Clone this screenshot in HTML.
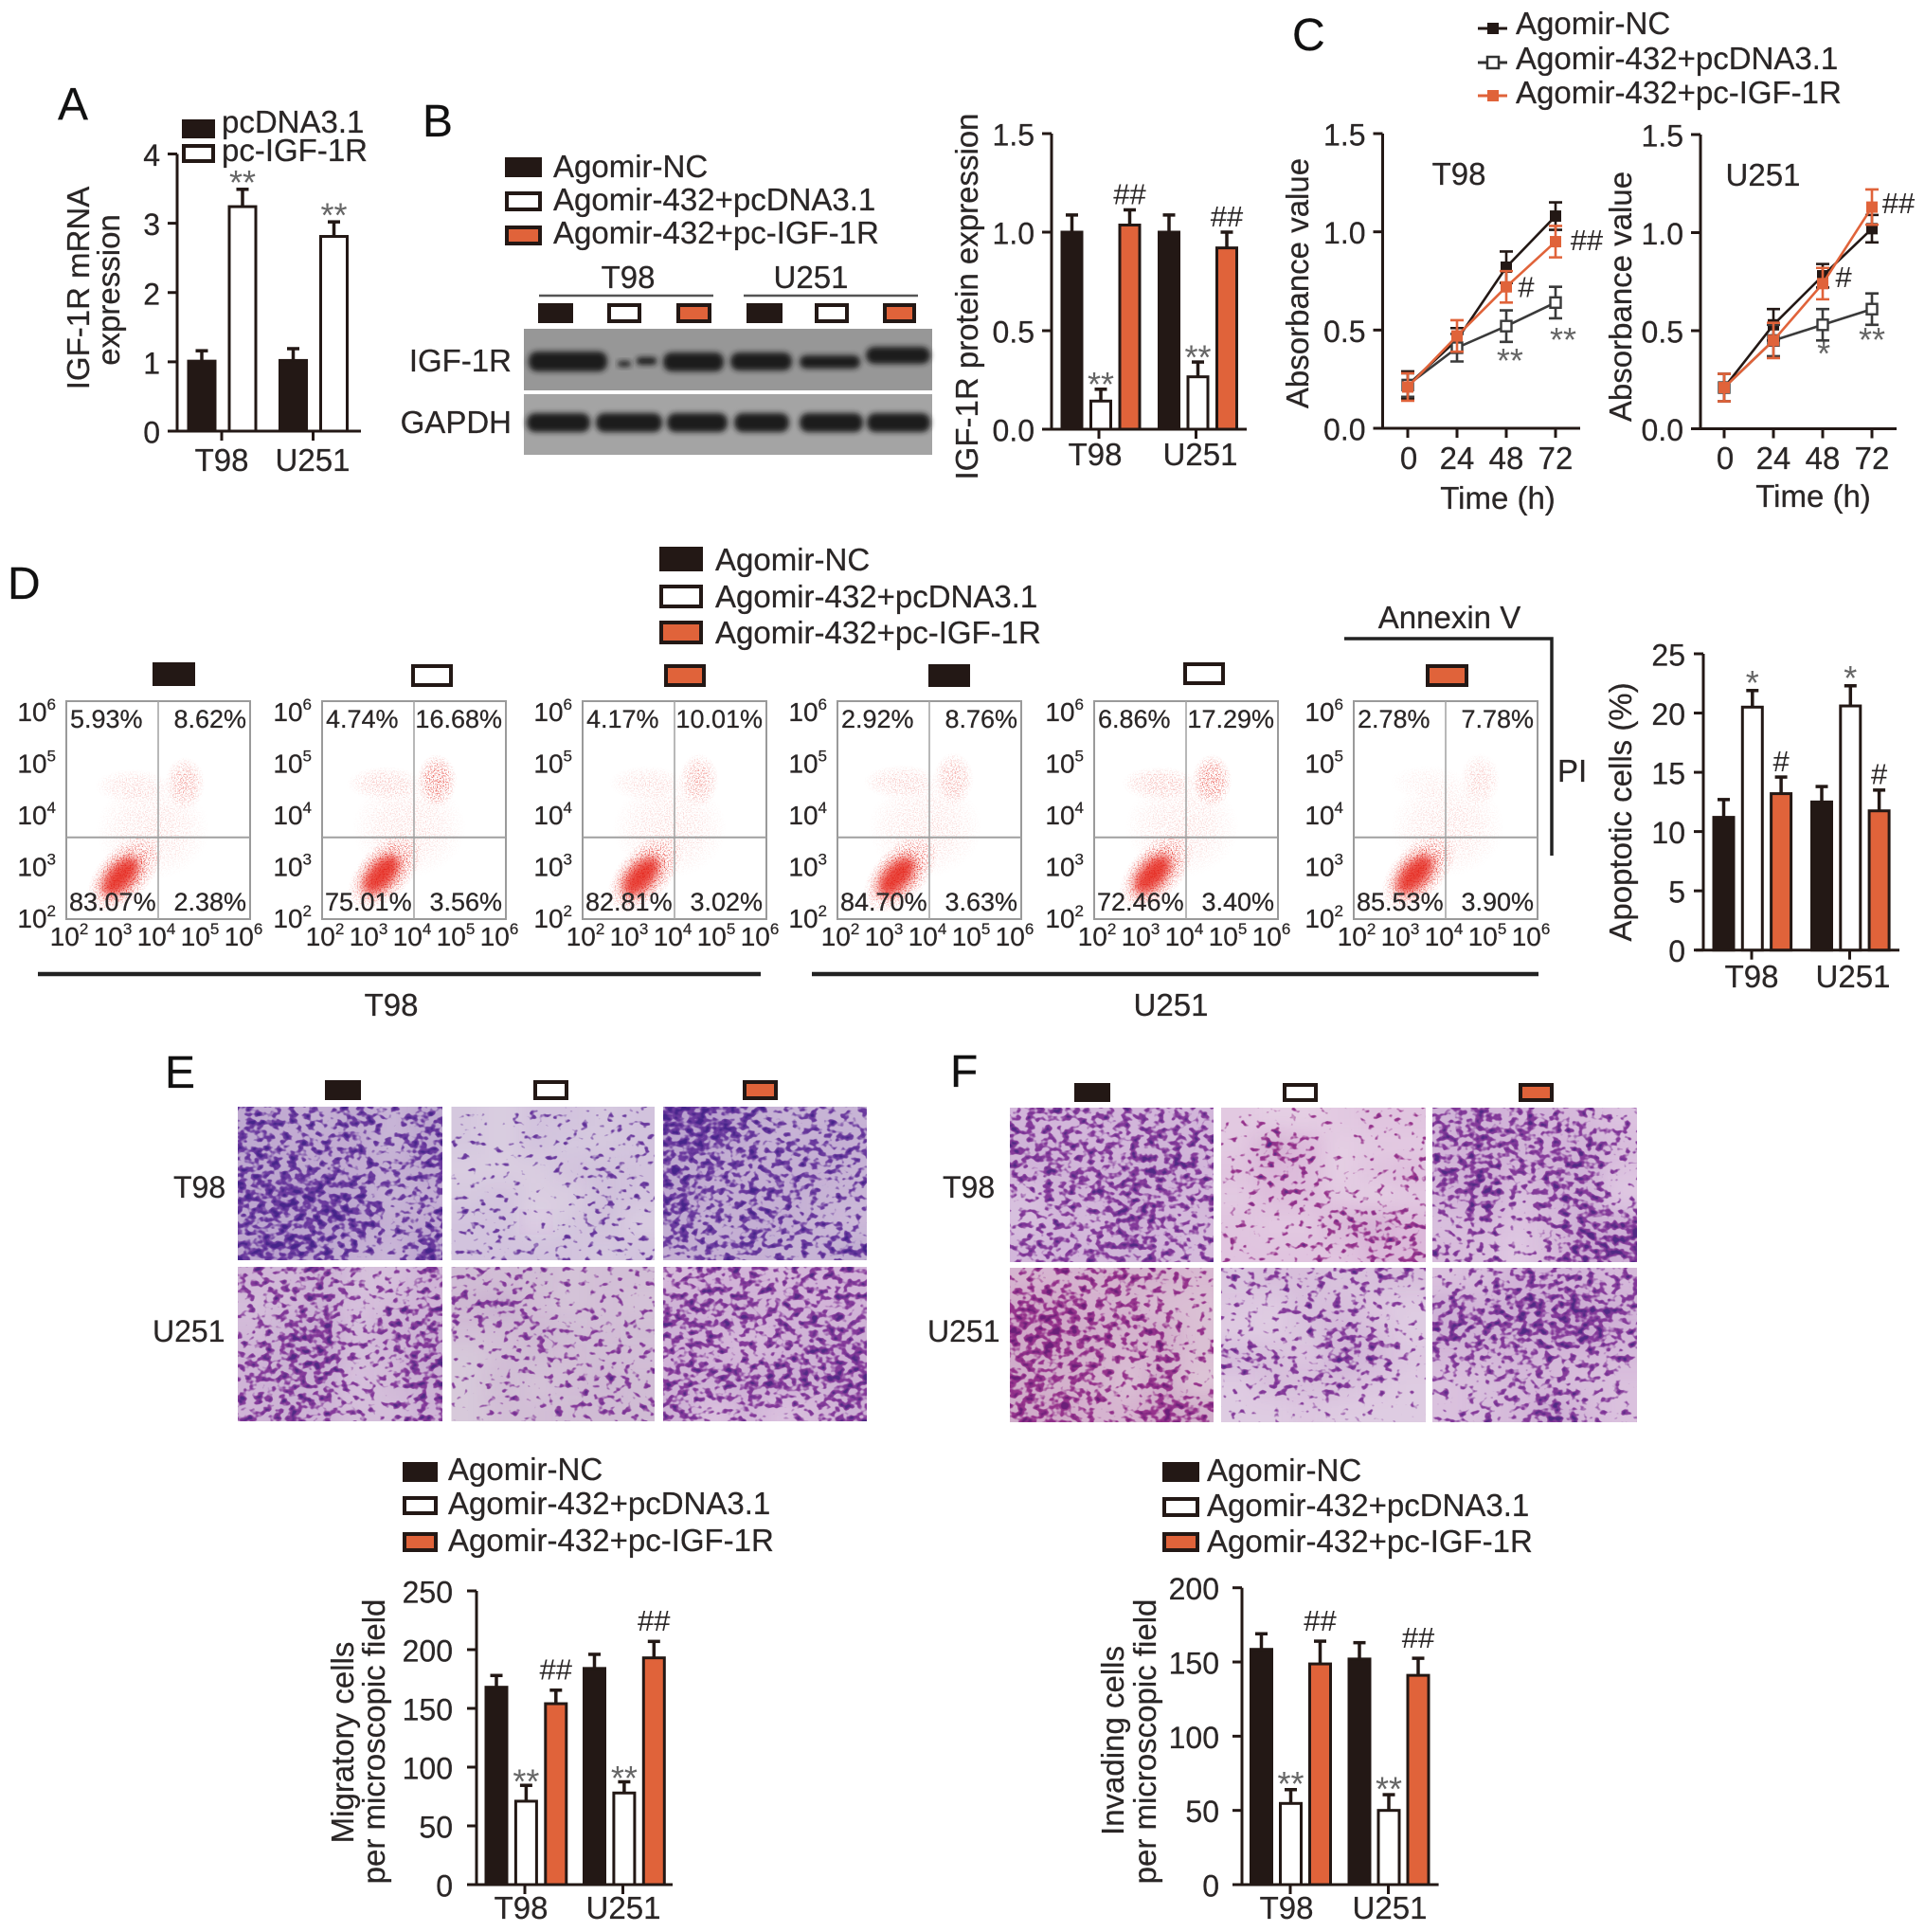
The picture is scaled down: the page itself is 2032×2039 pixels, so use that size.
<!DOCTYPE html>
<html lang="en">
<head>
<meta charset="utf-8">
<title>IGF-1R multi-panel figure</title>
<style>
html,body{margin:0;padding:0;background:#fff;width:2032px;height:2039px;overflow:hidden}
svg{display:block}
text{font-family:"Liberation Sans",sans-serif;fill:#2a2626;font-size:33px;stroke:#2a2626;stroke-width:.25px}
.letter{font-size:48px;fill:#111}
.k{fill:#231815;stroke:#231815;stroke-width:4}
.w{fill:#fff;stroke:#231815;stroke-width:4}
.o{fill:#e0633a;stroke:#231815;stroke-width:4}
.mid{text-anchor:middle}
.end{text-anchor:end}
.row{font-size:32px}
.band{fill:#1c1c1c;filter:url(#bandBlur)}
</style>
</head>
<body>
<svg id="fig" xmlns="http://www.w3.org/2000/svg" width="2032" height="2039" viewBox="0 0 2032 2039">
<defs>
<filter id="bandBlur" x="-20%" y="-60%" width="140%" height="220%"><feGaussianBlur stdDeviation="3"/></filter>
<filter id="softBlur" x="-50%" y="-50%" width="200%" height="200%"><feGaussianBlur stdDeviation="5"/></filter>
<radialGradient id="flowGrad"><stop offset="0" stop-color="#e42a20" stop-opacity="1"/><stop offset=".55" stop-color="#e42a20" stop-opacity=".7"/><stop offset="1" stop-color="#e42a20" stop-opacity="0"/></radialGradient>
<filter id="speck" x="-10%" y="-10%" width="120%" height="120%" color-interpolation-filters="sRGB">
<feTurbulence type="fractalNoise" baseFrequency="0.75" numOctaves="2" seed="7" result="n"/>
<feColorMatrix in="n" type="matrix" values="0 0 0 0 0 0 0 0 0 0 0 0 0 0 0 0 0 0 9 -4.7" result="m"/>
<feComposite in="SourceGraphic" in2="m" operator="in"/>
</filter>
</defs>
<rect x="0" y="0" width="2032" height="2039" fill="#fff"/>

<!-- Panel letters -->
<text class="letter" x="61" y="126">A</text>
<text class="letter" x="446" y="144">B</text>
<text class="letter" x="1364" y="53">C</text>
<text class="letter" x="8" y="632">D</text>
<text class="letter" x="174" y="1148">E</text>
<text class="letter" x="1003" y="1147">F</text>

<!-- Panel A static -->
<rect class="k" x="194" y="128" width="31" height="16"/>
<text x="234" y="140">pcDNA3.1</text>
<rect class="w" x="194" y="154" width="31" height="16"/>
<text x="234" y="170">pc-IGF-1R</text>
<text class="mid" transform="translate(94,304) rotate(-90)">IGF-1R mRNA</text>
<text class="mid" transform="translate(126,306) rotate(-90)">expression</text>

<!-- Panel B static -->
<rect class="k" x="535" y="168" width="35" height="17"/>
<text x="584" y="187">Agomir-NC</text>
<rect class="w" x="535" y="204" width="35" height="17"/>
<text x="584" y="222">Agomir-432+pcDNA3.1</text>
<rect class="o" x="535" y="240" width="35" height="17"/>
<text x="584" y="257">Agomir-432+pc-IGF-1R</text>
<text class="mid" x="663" y="304">T98</text>
<text class="mid" x="856" y="304">U251</text>
<line x1="569" x2="753" y1="312" y2="312" stroke="#555" stroke-width="2.5"/>
<line x1="785" x2="969" y1="312" y2="312" stroke="#555" stroke-width="2.5"/>
<rect class="k" x="570" y="322" width="33" height="17"/>
<rect class="w" x="643" y="322" width="32" height="17"/>
<rect class="o" x="716" y="322" width="33" height="17"/>
<rect class="k" x="790" y="322" width="34" height="17"/>
<rect class="w" x="862" y="322" width="32" height="17"/>
<rect class="o" x="934" y="322" width="31" height="17"/>
<rect x="553" y="347" width="431" height="65" fill="#979797"/>
<rect x="553" y="416" width="431" height="64" fill="#a4a4a4"/>
<text class="end" x="540" y="392">IGF-1R</text>
<text class="end" x="540" y="457">GAPDH</text>
<rect class="band" x="558" y="371" width="83" height="21" rx="9"/>
<rect class="band" x="652" y="381" width="14" height="6" rx="3"/>
<rect class="band" x="672" y="377" width="21" height="8" rx="3"/>
<rect class="band" x="700" y="372" width="64" height="20" rx="9"/>
<rect class="band" x="771" y="372" width="65" height="19" rx="9"/>
<rect class="band" x="844" y="375" width="64" height="14" rx="7"/>
<rect class="band" x="914" y="366" width="68" height="18" rx="9"/>
<rect class="band" x="556" y="436" width="67" height="20" rx="9"/>
<rect class="band" x="629" y="436" width="70" height="20" rx="9"/>
<rect class="band" x="704" y="436" width="64" height="20" rx="9"/>
<rect class="band" x="775" y="436" width="58" height="20" rx="9"/>
<rect class="band" x="844" y="436" width="67" height="20" rx="9"/>
<rect class="band" x="915" y="436" width="67" height="20" rx="9"/>
<text class="mid" transform="translate(1032,313) rotate(-90)">IGF-1R protein expression</text>

<!-- Panel C static -->
<text x="1600" y="36">Agomir-NC</text>
<text x="1600" y="73">Agomir-432+pcDNA3.1</text>
<text x="1600" y="109">Agomir-432+pc-IGF-1R</text>
<line x1="1560" x2="1591" y1="30" y2="30" stroke="#231815" stroke-width="3"/>
<rect x="1570" y="24" width="12" height="12" fill="#231815"/>
<line x1="1560" x2="1591" y1="66" y2="66" stroke="#333" stroke-width="3"/>
<rect x="1570" y="60" width="12" height="12" fill="#fff" stroke="#333" stroke-width="2.5"/>
<line x1="1560" x2="1591" y1="101" y2="101" stroke="#e0633a" stroke-width="3"/>
<rect x="1570" y="95" width="12" height="12" fill="#e0633a"/>
<text class="mid" transform="translate(1381,299) rotate(-90)">Absorbance value</text>
<text class="mid" transform="translate(1722,313) rotate(-90)">Absorbance value</text>
<text class="mid" x="1540" y="195">T98</text>
<text class="mid" x="1861" y="196">U251</text>
<text class="mid" x="1581" y="537">Time (h)</text>
<text class="mid" x="1914" y="535">Time (h)</text>

<!-- Panel D static -->
<rect class="k" x="698" y="579" width="42" height="22"/>
<text x="755" y="602">Agomir-NC</text>
<rect class="w" x="698" y="619" width="42" height="21"/>
<text x="755" y="641">Agomir-432+pcDNA3.1</text>
<rect class="o" x="698" y="657" width="42" height="21"/>
<text x="755" y="679">Agomir-432+pc-IGF-1R</text>
<rect class="k" x="163" y="701" width="41" height="21"/>
<rect class="w" x="436" y="703" width="40" height="20"/>
<rect class="o" x="703" y="703" width="40" height="20"/>
<rect class="k" x="982" y="703" width="40" height="20"/>
<rect class="w" x="1251" y="701" width="40" height="20"/>
<rect class="o" x="1507" y="703" width="41" height="20"/>
<line x1="40" x2="803" y1="1028" y2="1028" stroke="#222" stroke-width="4.5"/>
<line x1="857" x2="1624" y1="1028" y2="1028" stroke="#222" stroke-width="4.5"/>
<text class="mid" x="413" y="1072">T98</text>
<text class="mid" x="1236" y="1072">U251</text>
<text class="mid" x="1530" y="663">Annexin V</text>
<path d="M1419 674H1638V903" fill="none" stroke="#222" stroke-width="3.5"/>
<text x="1644" y="825">PI</text>
<text class="mid" transform="translate(1722,857) rotate(-90)">Apoptotic cells (%)</text>

<!-- Panel E static -->
<rect class="k" x="345" y="1142" width="34" height="17"/>
<rect class="w" x="565" y="1142" width="33" height="17"/>
<rect class="o" x="786" y="1142" width="33" height="17"/>
<text class="row" x="183" y="1264">T98</text>
<text class="row" x="161" y="1416">U251</text>

<!-- Panel F static -->
<rect class="k" x="1136" y="1145" width="34" height="16"/>
<rect class="w" x="1356" y="1145" width="33" height="16"/>
<rect class="o" x="1605" y="1145" width="33" height="16"/>
<text class="row" x="995" y="1264">T98</text>
<text class="row" x="979" y="1416">U251</text>

<!-- Chart E static -->
<rect class="k" x="427" y="1545" width="33" height="17"/>
<text x="473" y="1562">Agomir-NC</text>
<rect class="w" x="427" y="1581" width="33" height="16"/>
<text x="473" y="1598">Agomir-432+pcDNA3.1</text>
<rect class="o" x="427" y="1619" width="33" height="17"/>
<text x="473" y="1637">Agomir-432+pc-IGF-1R</text>
<text class="mid" transform="translate(373,1839) rotate(-90)">Migratory cells</text>
<text class="mid" transform="translate(406,1838) rotate(-90)">per microscopic field</text>

<!-- Chart F static -->
<rect class="k" x="1229" y="1545" width="35" height="17"/>
<text x="1274" y="1563">Agomir-NC</text>
<rect class="w" x="1229" y="1582" width="35" height="17"/>
<text x="1274" y="1600">Agomir-432+pcDNA3.1</text>
<rect class="o" x="1229" y="1619" width="35" height="17"/>
<text x="1274" y="1638">Agomir-432+pc-IGF-1R</text>
<text class="mid" transform="translate(1186,1837) rotate(-90)">Invading cells</text>
<text class="mid" transform="translate(1220,1838) rotate(-90)">per microscopic field</text>
</svg>

<script>
// ---------- chart data ----------
const categories = ['T98', 'U251'];
const timeLabels = [0, 24, 48, 72];

const aTicks = [0, 1, 2, 3, 4];
const aPcdna = [1.01, 1.02];
const aPcIgf = [3.24, 2.81];
const aPcdnaErr = [0.15, 0.17];
const aPcIgfErr = [0.25, 0.21];
const aMarks = ['', '**', '', '**'];

const bTicks = ['0.0', '0.5', '1.0', '1.5'];
const bNc = [1.0, 1.0];
const b432 = [0.143, 0.266];
const bIgf = [1.036, 0.92];
const bNcErr = [0.087, 0.087];
const b432Err = [0.06, 0.075];
const bIgfErr = [0.077, 0.08];
const bMarks = ['', '**', '##', '', '**', '##'];

const cTicks = ['0.0', '0.5', '1.0', '1.5'];
const cT98Nc = [0.22, 0.45, 0.82, 1.08];
const cT98432 = [0.22, 0.41, 0.52, 0.64];
const cT98Igf = [0.21, 0.47, 0.72, 0.95];
const cT98NcErr = [0.07, 0.06, 0.08, 0.07];
const cT98432Err = [0.06, 0.07, 0.08, 0.08];
const cT98IgfErr = [0.07, 0.08, 0.08, 0.08];
const cU251Nc = [0.21, 0.53, 0.78, 1.02];
const cU251432 = [0.21, 0.45, 0.53, 0.61];
const cU251Igf = [0.21, 0.45, 0.74, 1.13];
const cU251NcErr = [0.07, 0.08, 0.06, 0.07];
const cU251432Err = [0.07, 0.08, 0.08, 0.08];
const cU251IgfErr = [0.07, 0.09, 0.08, 0.09];
const cT98MarkText = ['#', '##', '**', '**'];
const cT98MarkTime = [57.7, 87.2, 49.8, 75.7];
const cT98MarkValue = [0.72, 0.96, 0.367, 0.473];
const cU251MarkText = ['##', '#', '*', '**'];
const cU251MarkTime = [84.9, 58.2, 48.5, 72];
const cU251MarkValue = [1.152, 0.775, 0.408, 0.476];

const dTicks = [0, 5, 10, 15, 20, 25];
const dNc = [11.2, 12.5];
const d432 = [20.5, 20.6];
const dIgf = [13.2, 11.75];
const dNcErr = [1.5, 1.3];
const d432Err = [1.4, 1.7];
const dIgfErr = [1.4, 1.75];
const dMarks = ['', '*', '#', '', '*', '#'];

const eTicks = [0, 50, 100, 150, 200, 250];
const eNc = [168, 184];
const e432 = [71, 78];
const eIgf = [154, 193];
const eNcErr = [10, 12];
const e432Err = [13.5, 9.5];
const eIgfErr = [11.5, 14];
const eMarks = ['', '**', '##', '', '**', '##'];

const fTicks = [0, 50, 100, 150, 200];
const fNc = [158.5, 152];
const f432 = [54.7, 50];
const fIgf = [148.7, 141];
const fNcErr = [10.5, 11];
const f432Err = [9.3, 10.6];
const fIgfErr = [15.3, 11.5];
const fMarks = ['', '**', '##', '', '**', '##'];

// flow cytometry: quadrant percentages (UL, UR, LL, LR) as printed
const flowUL = ['5.93%', '4.74%', '4.17%', '2.92%', '6.86%', '2.78%'];
const flowUR = ['8.62%', '16.68%', '10.01%', '8.76%', '17.29%', '7.78%'];
const flowLL = ['83.07%', '75.01%', '82.81%', '84.70%', '72.46%', '85.53%'];
const flowLR = ['2.38%', '3.56%', '3.02%', '3.63%', '3.40%', '3.90%'];
// population centres in log10 units, and relative intensity
const flowMainLogX = [3.18, 3.29, 3.27, 3.29, 3.27, 3.33];
const flowMainLogY = [2.78, 2.82, 2.78, 2.78, 2.82, 2.82];
const flowUpperLogX = [4.58, 4.5, 4.53, 4.53, 4.56, 4.75];
const flowUpperLogY = [4.49, 4.54, 4.55, 4.57, 4.54, 4.56];
const flowUpperLevel = [0.5, 0.8, 0.5, 0.45, 0.8, 0.28];
const flowEarlyLevel = [0.22, 0.3, 0.2, 0.28, 0.34, 0.1];
const flowDecades = [2, 3, 4, 5, 6];

// micrograph stain density read per tile, 6x6, digits 0-9
const microENcT98 = '765747766647776657899745778856897538';
const microE432T98 = '213323213223111343231143330241333323';
const microEIgfT98 = '997555886566766665866655756653666557';
const microENcU251 = '657436457356578467678458677357676446';
const microE432U251 = '434233573232335434134343142354133444';
const microEIgfU251 = '566566777666765677665678778878736357';
const microFNcT98 = '666666766676676786466866465865666765';
const microF432T98 = '211233275122354134244212322675333355';
const microFIgfT98 = '776653677675785773684672453588542598';
const microFNcU251 = '556664885633887673776463766372785587';
const microF432U251 = '455455325532224652653763255532223222';
const microFIgfU251 = '346665768887777896556555345543345853';

// ---------- helpers ----------
const NS = 'http://www.w3.org/2000/svg';
const root = document.getElementById('fig');
const BLACK = '#231815', ORANGE = '#e0633a';

function mk(tag, attrs, parent, name) {
  const el = document.createElementNS(NS, tag);
  for (const k in attrs) el.setAttribute(k, attrs[k]);
  
  
  (parent || root).appendChild(el);
  return el;
}
function label(str, x, y, anchor, parent, name, size) {
  const t = mk('text', {x: x, y: y, 'text-anchor': anchor}, parent, name);
  if (size) t.style.fontSize = size + 'px';
  t.textContent = str;
  return t;
}
function mark(str, x, cy, parent) {
  const isStar = str.indexOf('*') >= 0;
  const fs = isStar ? 36 : 31;
  const t = label(str, x, cy + (isStar ? 0.48 : 0.35) * fs, 'middle', parent, isStar ? 'significance-star' : 'significance-hash', fs);
  t.style.fill = isStar ? '#666' : '#2a2626';
  t.style.stroke = 'none';
  return t;
}
function linearScale(v0, px0, v1, px1) {
  return function (v) { return px0 + (v - v0) * (px1 - px0) / (v1 - v0); };
}
function axes(c, g, ticks) {
  const y = linearScale(0, c.y0, c.max, c.y1);
  mk('line', {x1: c.axisX, x2: c.axisX, y1: c.y1, y2: c.y0, stroke: BLACK, 'stroke-width': 3}, g, 'y-axis-line');
  mk('line', {x1: c.xa0, x2: c.xa1, y1: c.y0, y2: c.y0, stroke: BLACK, 'stroke-width': 3}, g, 'x-axis-line');
  ticks.forEach(function (tk) {
    const yy = y(parseFloat(tk));
    mk('line', {x1: c.axisX - 10, x2: c.axisX, y1: yy, y2: yy, stroke: BLACK, 'stroke-width': 3}, g, 'y-tick');
    label(String(tk), c.axisX - (c.tickGap || 18), yy + 12.5, 'end', g, 'y-tick-label', 32);
  });
  return y;
}
function barChart(name, c, ticks, series, errs, marks) {
  const g = mk('g', {}, root, name);
  const y = axes(c, g, ticks);
  const nS = series.length;
  categories.forEach(function (cat, gi) {
    series.forEach(function (vals, si) {
      const x = c.first + gi * c.groupStep + si * c.barStep;
      const top = y(vals[gi]);
      const errTop = y(vals[gi] + errs[si][gi]);
      const cx = x + c.barW / 2;
      mk('line', {x1: cx, x2: cx, y1: errTop, y2: top, stroke: BLACK, 'stroke-width': 3.5}, g, 'error-bar');
      mk('line', {x1: cx - 6.5, x2: cx + 6.5, y1: errTop, y2: errTop, stroke: BLACK, 'stroke-width': 3.5}, g, 'error-cap');
      const fill = c.colors[si];
      mk('rect', {x: x, y: top, width: c.barW, height: c.y0 - top, fill: fill, stroke: BLACK, 'stroke-width': 3}, g, 'bar-' + cat.toLowerCase() + '-' + si);
      const m = marks[gi * nS + si];
      if (m) {
        const off = m.indexOf('*') >= 0 ? c.starGap : c.hashGap;
        mark(m, cx + (c.markShift || 0), errTop - off, g);
      }
    });
    const tx = c.tickX0 + gi * c.groupStep;
    mk('line', {x1: tx, x2: tx, y1: c.y0, y2: c.y0 + 10, stroke: BLACK, 'stroke-width': 3}, g, 'x-tick');
    label(cat, c.catX[gi], c.catY, 'middle', g, 'x-tick-label');
  });
}
function lineChart(name, c, ticks, series, errs, texts, times, values) {
  const g = mk('g', {}, root, name);
  const y = axes(c, g, ticks);
  const x = linearScale(0, c.x0, 72, c.x72);
  const colors = [BLACK, '#3a3a3a', ORANGE];
  timeLabels.forEach(function (t) {
    mk('line', {x1: x(t), x2: x(t), y1: c.y0, y2: c.y0 + 10, stroke: BLACK, 'stroke-width': 3}, g, 'x-tick');
    label(String(t), x(t) + (t === 0 ? 1 : 0), c.labelY, 'middle', g, 'x-tick-label');
  });
  series.forEach(function (vals, si) {
    const pts = vals.map(function (v, i) { return x(timeLabels[i]) + ',' + y(v); }).join(' ');
    mk('polyline', {points: pts, fill: 'none', stroke: colors[si], 'stroke-width': 2.6}, g, 'series-line-' + si);
    vals.forEach(function (v, i) {
      const px = x(timeLabels[i]);
      const e = errs[si][i];
      mk('path', {d: 'M' + (px - 7) + ' ' + y(v + e) + 'H' + (px + 7) + 'M' + px + ' ' + y(v + e) + 'V' + y(v - e) + 'M' + (px - 7) + ' ' + y(v - e) + 'H' + (px + 7), fill: 'none', stroke: colors[si], 'stroke-width': 2.6}, g, 'point-error-bar');
      mk('rect', {x: px - 5.5, y: y(v) - 5.5, width: 11, height: 11, fill: si === 1 ? '#fff' : colors[si], stroke: colors[si], 'stroke-width': si === 1 ? 2.4 : 1}, g, 'series-point-' + si);
    });
  });
  texts.forEach(function (m, i) { mark(m, x(times[i]), y(values[i]), g); });
}
function flowPlot(i, left) {
  const W = 194, top = 740, H = 230;
  const g = mk('g', {}, root, 'flow-plot-' + (i + 1));
  const fx = linearScale(2, left, 6, left + W);
  const fy = linearScale(2, top + H, 6, top);
  const dots = mk('g', {filter: 'url(#speck)'}, g, 'flow-event-cloud');
  const mx = fx(flowMainLogX[i]), my = fy(flowMainLogY[i]);
  const ux = fx(flowUpperLogX[i]), uy = fy(flowUpperLogY[i]);
  mk('ellipse', {cx: (mx + ux) / 2, cy: (my + uy) / 2, rx: 60, ry: 52, fill: 'url(#flowGrad)', opacity: 0.2}, dots, 'flow-diffuse-events');
  mk('ellipse', {cx: ux - 55, cy: uy + 3, rx: 40, ry: 18, fill: 'url(#flowGrad)', opacity: flowEarlyLevel[i]}, dots, 'flow-early-apoptotic');
  mk('ellipse', {cx: ux, cy: uy, rx: 21, ry: 28, fill: 'url(#flowGrad)', opacity: flowUpperLevel[i]}, dots, 'flow-late-apoptotic');
  mk('ellipse', {cx: mx + 4, cy: my - 3, rx: 50, ry: 28, fill: 'url(#flowGrad)', transform: 'rotate(-48 ' + (mx + 4) + ' ' + (my - 3) + ')'}, dots, 'flow-viable-halo');
  mk('ellipse', {cx: mx, cy: my, rx: 25, ry: 13, fill: '#e5281f', opacity: 0.85, filter: 'url(#softBlur)', transform: 'rotate(-48 ' + mx + ' ' + my + ')'}, g, 'flow-viable-core');
  mk('rect', {x: left, y: top, width: W, height: H, fill: 'none', stroke: '#9a9a9a', 'stroke-width': 2}, g, 'flow-frame');
  const gx = fx(4), gy = fy(3.5);
  mk('line', {x1: gx, x2: gx, y1: top, y2: top + H, stroke: '#a6a6a6', 'stroke-width': 1.6}, g, 'flow-gate-vertical');
  mk('line', {x1: left, x2: left + W, y1: gy, y2: gy, stroke: '#a0a0a0', 'stroke-width': 2}, g, 'flow-gate-horizontal');
  label(flowUL[i], left + 4, 768, 'start', g, 'quadrant-upper-left', 27);
  label(flowUR[i], left + W - 4, 768, 'end', g, 'quadrant-upper-right', 27);
  label(flowLL[i], left + 3, 961, 'start', g, 'quadrant-lower-left', 27);
  label(flowLR[i], left + W - 4, 961, 'end', g, 'quadrant-lower-right', 27);
  flowDecades.forEach(function (d, k) {
    const base = 979 - k * 54.5;
    const yl = mk('text', {x: left - 11, y: base, 'text-anchor': 'end'}, g, 'flow-y-tick-label');
    yl.style.fontSize = '28px';
    yl.appendChild(document.createTextNode('10'));
    const ys = mk('tspan', {dy: -12}, yl, 'flow-y-tick-exponent');
    ys.style.fontSize = '17px';
    ys.textContent = String(d);
    const xl = mk('text', {x: left + 3 + k * 46, y: 998, 'text-anchor': 'middle'}, g, 'flow-x-tick-label');
    xl.style.fontSize = '28px';
    xl.appendChild(document.createTextNode('10'));
    const xs = mk('tspan', {dy: -12}, xl, 'flow-x-tick-exponent');
    xs.style.fontSize = '17px';
    xs.textContent = String(d);
  });
}
function micrograph(name, x, y, w, h, grid, light, stain, deep, seed) {
  const svg = mk('svg', {x: x, y: y, width: w, height: h, viewBox: '0 0 ' + w + ' ' + h}, root, name);
  const fid = 'mic' + seed;
  const defs = document.createElementNS(NS, 'defs');
  defs.innerHTML =
    '<filter id="' + fid + '" filterUnits="userSpaceOnUse" x="-40" y="-40" width="' + (w + 80) + '" height="' + (h + 80) + '" color-interpolation-filters="sRGB">' +
    '<feGaussianBlur in="SourceAlpha" stdDeviation="11" result="d"/>' +
    '<feTurbulence type="fractalNoise" baseFrequency="0.11 0.14" numOctaves="2" seed="' + seed + '"/>' +
    '<feColorMatrix type="matrix" values="0 0 0 0 0 0 0 0 0 0 0 0 0 0 0 0 0 0 1 0" result="n"/>' +
    '<feComposite in="d" in2="n" operator="arithmetic" k1="0" k2="1" k3="1" k4="-1" result="c"/>' +
    '<feColorMatrix in="c" type="matrix" values="0 0 0 0 0 0 0 0 0 0 0 0 0 0 0 0 0 0 8 0" result="a1"/>' +
    '<feColorMatrix in="c" type="matrix" values="0 0 0 0 0 0 0 0 0 0 0 0 0 0 0 0 0 0 8 -1.4" result="a2"/>' +
    '<feFlood flood-color="' + stain + '"/><feComposite in2="a1" operator="in" result="s1"/>' +
    '<feFlood flood-color="' + deep + '"/><feComposite in2="a2" operator="in" result="s2"/>' +
    '<feMerge><feMergeNode in="s1"/><feMergeNode in="s2"/></feMerge></filter>' +
    '<filter id="' + fid + 'b" filterUnits="userSpaceOnUse" x="-40" y="-40" width="' + (w + 80) + '" height="' + (h + 80) + '"><feGaussianBlur stdDeviation="11"/></filter>';
  svg.appendChild(defs);
  mk('rect', {x: 0, y: 0, width: w, height: h, fill: light}, svg, 'micrograph-background');
  const tone = mk('g', {filter: 'url(#' + fid + 'b)'}, svg, 'micrograph-stain-tone');
  const cells = mk('g', {filter: 'url(#' + fid + ')'}, svg, 'micrograph-cells');
  const cw = w / 6, ch = h / 6;
  for (let r = 0; r < 6; r++) {
    for (let q = 0; q < 6; q++) {
      const d = +grid[r * 6 + q];
      const px = q === 0 ? -40 : q * cw;
      const py = r === 0 ? -40 : r * ch;
      const pw = (q === 0 ? 40 : 0) + (q === 5 ? 40 : 0) + cw;
      const ph = (r === 0 ? 40 : 0) + (r === 5 ? 40 : 0) + ch;
      mk('rect', {x: px, y: py, width: pw, height: ph, fill: stain, 'fill-opacity': 0.04 + d / 9 * 0.26}, tone, 'stain-tone-tile');
      mk('rect', {x: px, y: py, width: pw, height: ph, fill: '#000', 'fill-opacity': 0.28 + d / 9 * 0.36}, cells, 'stain-density-tile');
    }
  }
}

// ---------- draw ----------
const fillKW = [BLACK, '#fff'];
const fillKWO = [BLACK, '#fff', ORANGE];

barChart('chart-a-mrna', {axisX: 187, y0: 455, y1: 162.5, max: 4, xa0: 177, xa1: 381, first: 199, barStep: 43, barW: 28, groupStep: 96.5, colors: fillKW, tickX0: 234, catX: [234, 330], catY: 497, starGap: 12, hashGap: 14, markShift: 0, tickGap: 18},
  aTicks, [aPcdna, aPcIgf], [aPcdnaErr, aPcIgfErr], aMarks);

barChart('chart-b-protein', {axisX: 1110, y0: 453, y1: 141, max: 1.5, xa0: 1102, xa1: 1316, first: 1121, barStep: 30.5, barW: 21, groupStep: 102.5, colors: fillKWO, tickX0: 1160, catX: [1156, 1267], catY: 491, starGap: 10, hashGap: 17, tickGap: 18},
  bTicks, [bNc, b432, bIgf], [bNcErr, b432Err, bIgfErr], bMarks);

lineChart('chart-c-t98', {axisX: 1459.5, y0: 452, y1: 141, max: 1.5, xa0: 1454, xa1: 1668, x0: 1486, x72: 1642, labelY: 495, tickGap: 18},
  cTicks, [cT98Nc, cT98432, cT98Igf], [cT98NcErr, cT98432Err, cT98IgfErr], cT98MarkText, cT98MarkTime, cT98MarkValue);

lineChart('chart-c-u251', {axisX: 1795, y0: 452.5, y1: 142, max: 1.5, xa0: 1789, xa1: 2002, x0: 1820, x72: 1976, labelY: 495, tickGap: 18},
  cTicks, [cU251Nc, cU251432, cU251Igf], [cU251NcErr, cU251432Err, cU251IgfErr], cU251MarkText, cU251MarkTime, cU251MarkValue);

[70, 340, 615, 884, 1155, 1429].forEach(function (left, i) { flowPlot(i, left); });

barChart('chart-d-apoptosis', {axisX: 1798, y0: 1002.7, y1: 690, max: 25, xa0: 1790, xa1: 2005, first: 1809, barStep: 30.3, barW: 21, groupStep: 103.5, colors: fillKWO, tickX0: 1849, catX: [1849, 1956], catY: 1042, starGap: 13, hashGap: 17, tickGap: 19},
  dTicks, [dNc, d432, dIgf], [dNcErr, d432Err, dIgfErr], dMarks);

const L = '#e2d8e6', S = '#6b3a9e', D = '#46258a', S2 = '#853a9a', D2 = '#512a84', S3 = '#96338c';
micrograph('micrograph-e-t98-nc', 251, 1168, 216, 162, microENcT98, '#d9cbe0', S, D, 11);
micrograph('micrograph-e-t98-432', 476.5, 1168, 214.5, 162, microE432T98, L, S, D, 12);
micrograph('micrograph-e-t98-igf', 700, 1168, 215, 162, microEIgfT98, '#dccfe2', S, D, 13);
micrograph('micrograph-e-u251-nc', 251, 1337, 216, 163, microENcU251, '#e2d6e6', S2, D2, 14);
micrograph('micrograph-e-u251-432', 476.5, 1337, 214.5, 163, microE432U251, '#ddd3df', S2, D2, 15);
micrograph('micrograph-e-u251-igf', 700, 1337, 215, 163, microEIgfU251, '#e6d6e8', S2, D2, 16);
micrograph('micrograph-f-t98-nc', 1066, 1169, 215, 163, microFNcT98, '#e6d8ea', S2, D2, 21);
micrograph('micrograph-f-t98-432', 1289, 1169, 216, 163, microF432T98, '#ead9ea', S3, D2, 22);
micrograph('micrograph-f-t98-igf', 1512, 1169, 216, 163, microFIgfT98, '#e8d8ea', S2, D2, 23);
micrograph('micrograph-f-u251-nc', 1066, 1338, 215, 163, microFNcU251, '#e4d4de', S3, '#6a1f78', 24);
micrograph('micrograph-f-u251-432', 1289, 1338, 216, 163, microF432U251, '#e8dcea', S2, D2, 25);
micrograph('micrograph-f-u251-igf', 1512, 1338, 216, 163, microFIgfU251, '#e6d6e8', S2, D2, 26);

barChart('chart-e-migration', {axisX: 503, y0: 1989, y1: 1679, max: 250, xa0: 493.5, xa1: 710, first: 513, barStep: 31.4, barW: 22, groupStep: 103.5, colors: fillKWO, tickX0: 554, catX: [550, 658], catY: 2025, starGap: 9, hashGap: 22, tickGap: 25},
  eTicks, [eNc, e432, eIgf], [eNcErr, e432Err, eIgfErr], eMarks);

barChart('chart-f-invasion', {axisX: 1311, y0: 1989, y1: 1675.7, max: 200, xa0: 1301.4, xa1: 1518.6, first: 1320.5, barStep: 31, barW: 22, groupStep: 103.5, colors: fillKWO, tickX0: 1362, catX: [1358, 1467], catY: 2025, starGap: 11, hashGap: 22, tickGap: 24},
  fTicks, [fNc, f432, fIgf], [fNcErr, f432Err, fIgfErr], fMarks);
</script>
</body>
</html>
